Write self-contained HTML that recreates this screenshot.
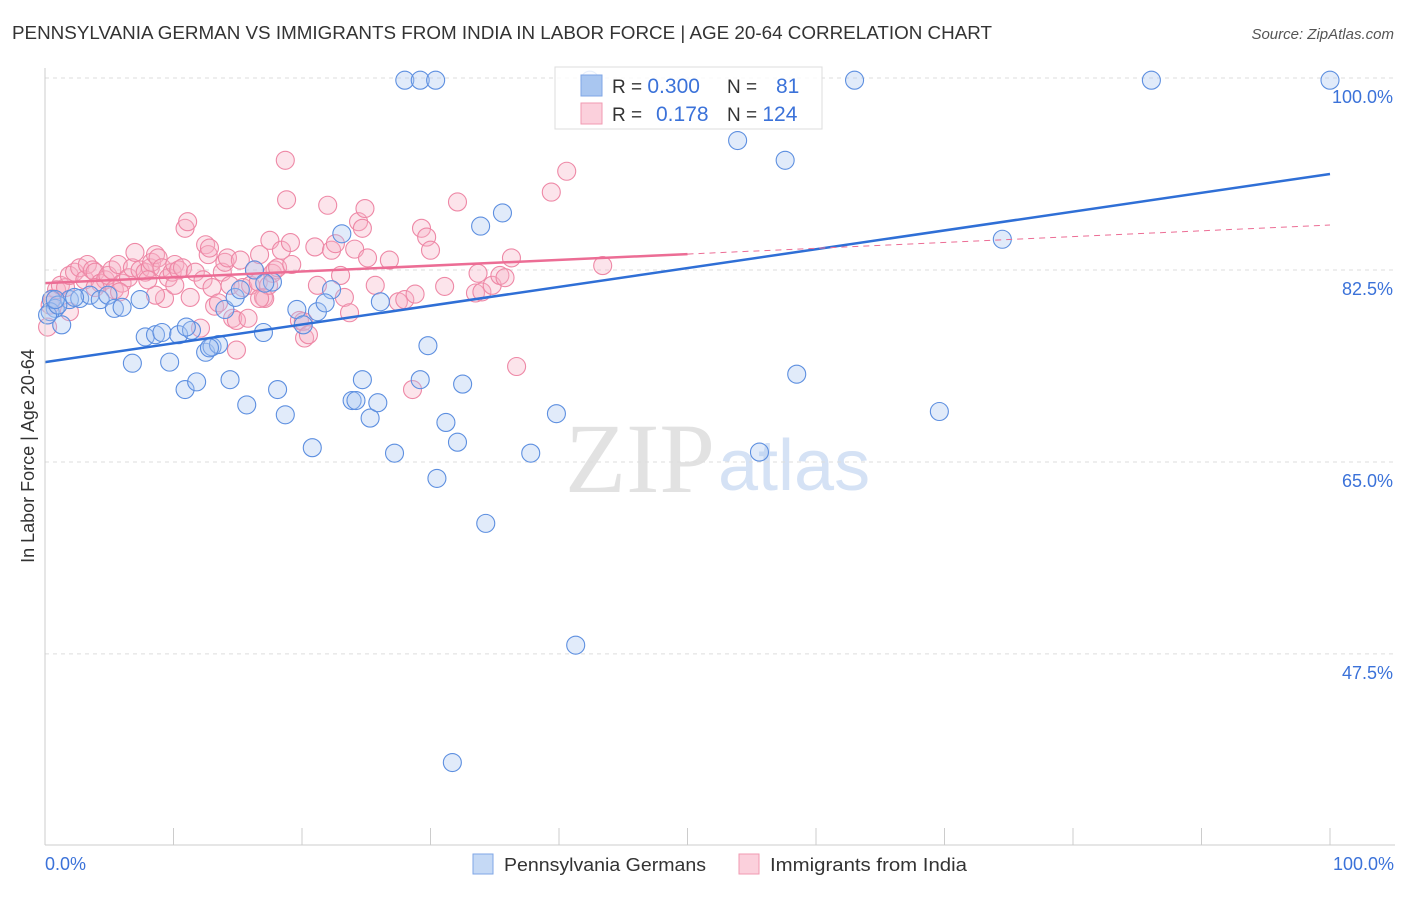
<!DOCTYPE html>
<html><head><meta charset="utf-8"><style>
body{margin:0;background:#fff;font-family:"Liberation Sans",sans-serif}
svg text{font-family:"Liberation Sans",sans-serif}
</style></head><body>
<svg id="c" width="1406" height="892" xmlns="http://www.w3.org/2000/svg">
<text x="12" y="39" font-size="18" fill="#333" textLength="980" lengthAdjust="spacingAndGlyphs">PENNSYLVANIA GERMAN VS IMMIGRANTS FROM INDIA IN LABOR FORCE | AGE 20-64 CORRELATION CHART</text>
<text x="1394" y="39" font-size="15" fill="#555" font-style="italic" text-anchor="end">Source: ZipAtlas.com</text>
<text x="715" y="492" font-size="100" fill="#e2e2e2" text-anchor="end" style="font-family:'Liberation Serif',serif">ZIP</text>
<text x="718" y="490" font-size="72" fill="#d5e2f5">atlas</text>
<g id="grid"></g><g id="pts"></g><g id="lines"></g>
<line x1="45" y1="68" x2="45" y2="845" stroke="#ccc"/>
<line x1="45" y1="845" x2="1395" y2="845" stroke="#ccc"/>
<text x="34" y="456" font-size="18" fill="#333" text-anchor="middle" transform="rotate(-90 34 456)">In Labor Force | Age 20-64</text>
<text x="45" y="870" font-size="18" fill="#3b72d9">0.0%</text>
<text x="1394" y="870" font-size="18" fill="#3b72d9" text-anchor="end">100.0%</text>
<g>
<rect x="473" y="854" width="20" height="20" fill="#c5d9f5" stroke="#7fa6e6"/>
<text x="504" y="871" font-size="18" fill="#333" textLength="202" lengthAdjust="spacingAndGlyphs">Pennsylvania Germans</text>
<rect x="739" y="854" width="20" height="20" fill="#fbd0dc" stroke="#f09ab2"/>
<text x="770" y="871" font-size="18" fill="#333" textLength="197" lengthAdjust="spacingAndGlyphs">Immigrants from India</text>
</g>
<g>
<rect x="555" y="67" width="267" height="62" fill="#fff" fill-opacity="0.85" stroke="#ddd"/>
<rect x="581" y="75" width="21" height="21" fill="#a9c6f0" stroke="#7fa6e6"/>
<rect x="581" y="103" width="21" height="21" fill="#fbd0dc" stroke="#f09ab2"/>
<text x="612" y="93" font-size="19" fill="#333">R = <tspan fill="#3b72d9" font-size="21">0.300</tspan></text>
<text x="727" y="93" font-size="19" fill="#333">N = <tspan fill="#3b72d9" x="776" font-size="21">81</tspan></text>
<text x="612" y="121" font-size="19" fill="#333">R = <tspan fill="#3b72d9" x="656" font-size="21">0.178</tspan></text>
<text x="727" y="121" font-size="19" fill="#333">N = <tspan fill="#3b72d9" font-size="21">124</tspan></text>
</g>
</svg>
<script>
const yTicks=[100,82.5,65,47.5];
const yTickLabels=["100.0%","82.5%","65.0%","47.5%"];
const blueTrend=[74.1,91.25];
const pinkTrend=[81.3,86.6];
const pinkSolidEnd=50;
const bluePx=[[405,80],[420,80],[435,80],[590,80],[855,80],[1152,80],[1330,80],[738,140],[785,160],[502,213],[480,226],[1002,239],[342,234],[332,290],[255,270],[272,282],[52,300],[55,308],[62,325],[70,300],[80,298],[90,295],[100,300],[108,295],[115,308],[122,307],[140,300],[132,363],[145,337],[155,335],[162,333],[170,362],[178,335],[185,390],[192,330],[197,382],[205,352],[212,347],[218,345],[225,310],[230,380],[235,297],[247,405],[263,332],[278,389],[285,415],[297,310],[303,325],[312,448],[318,312],[325,303],[352,400],[356,400],[362,380],[370,418],[378,403],[380,302],[395,453],[420,380],[428,346],[437,478],[446,423],[458,442],[463,384],[486,523],[531,453],[556,414],[576,645],[452,762],[759,452],[797,374],[940,411],[50,312],[48,315],[265,283],[58,305],[75,297],[240,290],[55,300],[186,327],[210,348]];
const pinkPx=[[47,327],[50,305],[53,298],[57,290],[60,285],[65,287],[70,275],[75,272],[80,268],[85,280],[88,265],[92,270],[95,272],[100,283],[105,280],[108,275],[112,270],[115,290],[118,265],[122,283],[128,278],[132,268],[135,252],[140,270],[145,272],[150,268],[152,262],[155,255],[158,258],[162,268],[165,298],[168,278],[172,272],[175,265],[178,270],[182,268],[185,228],[188,222],[190,297],[195,272],[200,328],[203,280],[205,245],[208,255],[210,248],[212,288],[215,306],[218,303],[222,272],[225,262],[228,258],[230,285],[233,318],[236,320],[240,260],[243,288],[248,318],[250,285],[255,270],[258,282],[260,255],[263,297],[265,298],[268,285],[270,240],[272,273],[275,270],[278,268],[282,250],[285,160],[286,200],[290,243],[292,265],[300,320],[303,322],[305,338],[308,335],[315,247],[318,285],[328,205],[332,250],[335,244],[340,276],[345,297],[350,313],[355,249],[358,222],[362,228],[365,208],[368,258],[375,285],[390,260],[398,302],[405,300],[412,390],[415,294],[422,228],[427,237],[430,250],[445,286],[458,202],[475,293],[478,273],[482,292],[492,285],[500,276],[505,278],[512,258],[517,367],[551,192],[567,171],[603,266],[237,350],[155,295],[120,292],[70,312],[95,288],[175,285],[260,298],[148,280]];
// values (x %, y %)
const blueX=bluePx.map(p=>+((p[0]-45)/12.85).toFixed(1)), blueY=bluePx.map(p=>+(100-(p[1]-78)/10.97).toFixed(1));
const pinkX=pinkPx.map(p=>+((p[0]-45)/12.85).toFixed(1)), pinkY=pinkPx.map(p=>+(100-(p[1]-78)/10.97).toFixed(1));
const X=v=>45+v*12.85, Y=v=>78+(100-v)*10.97;
const NS="http://www.w3.org/2000/svg";
function mk(t,a,p){const e=document.createElementNS(NS,t);for(const k in a)e.setAttribute(k,a[k]);p.appendChild(e);return e;}
const g=document.getElementById('grid');
yTicks.forEach((t,i)=>{
 const l=mk('line',{x1:45,x2:1395,y1:Y(t),y2:Y(t),stroke:'#ddd','stroke-dasharray':'4,4'},g);
 
 
 const tx=mk('text',{x:1393,y:Y(t)+25,'font-size':18,fill:'#3b72d9','text-anchor':'end'},g);
 tx.textContent=yTickLabels[i];
 
 
});
for(let i=1;i<=10;i++){const l=mk('line',{x1:X(i*10),x2:X(i*10),y1:828,y2:845,stroke:'#ccc'},g);
 
 }
const pg=document.getElementById('pts');
pinkX.forEach((x,i)=>{const c=mk('circle',{cx:X(x),cy:Y(pinkY[i]),r:9,fill:'#f7b3c7','fill-opacity':0.35,stroke:'#ee88a6','stroke-width':1.1},pg);
 
 });
blueX.forEach((x,i)=>{const c=mk('circle',{cx:X(x),cy:Y(blueY[i]),r:9,fill:'#a9c6f0','fill-opacity':0.35,stroke:'#5d8fe0','stroke-width':1.1},pg);
 
 });
const lg=document.getElementById('lines');
const pm=v=>pinkTrend[0]+(pinkTrend[1]-pinkTrend[0])*v/100;
let l=mk('line',{x1:X(0),y1:Y(blueTrend[0]),x2:X(100),y2:Y(blueTrend[1]),stroke:'#2f6fd6','stroke-width':2.5},lg);


l=mk('line',{x1:X(0),y1:Y(pm(0)),x2:X(pinkSolidEnd),y2:Y(pm(pinkSolidEnd)),stroke:'#ec6d95','stroke-width':2.5},lg);


l=mk('line',{x1:X(pinkSolidEnd),y1:Y(pm(pinkSolidEnd)),x2:X(100),y2:Y(pm(100)),stroke:'#ec6d95','stroke-width':1,'stroke-dasharray':'6,5'},lg);


</script>
</body></html>
